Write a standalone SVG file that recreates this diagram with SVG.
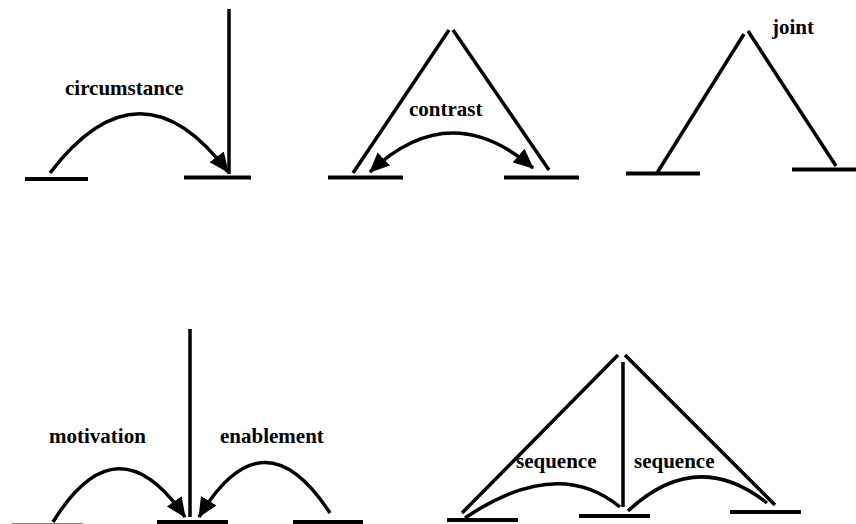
<svg xmlns="http://www.w3.org/2000/svg" width="856" height="524" viewBox="0 0 856 524">
<style>
.seg{stroke:#000;stroke-width:4;fill:none}
.ln{stroke:#000;stroke-width:3.5;fill:none}
.arc{stroke:#000;stroke-width:3.5;fill:none}
.lbl{font-family:"Liberation Serif","Times New Roman",serif;font-weight:bold;font-size:21px;fill:#000}
</style>
<defs>
<marker id="ah" markerUnits="userSpaceOnUse" markerWidth="22" markerHeight="18" refX="19" refY="9" orient="auto-start-reverse">
<path d="M0,0 L20,9 L0,18 z" fill="#000"/>
</marker>
</defs>
<rect width="856" height="524" fill="#fff"/>
<g id="nodes">
<g id="n1"><line class="seg" x1="25" y1="179" x2="88" y2="179"/></g>
<g id="n2"><line class="seg" x1="184" y1="177.5" x2="251" y2="177.5"/></g>
<g id="n3"><line class="seg" x1="328" y1="177.5" x2="403" y2="177.5"/></g>
<g id="n4"><line class="seg" x1="504" y1="177.5" x2="579" y2="177.5"/></g>
<g id="n5"><line class="seg" x1="626" y1="173.5" x2="700" y2="173.5"/></g>
<g id="n6"><line class="seg" x1="792" y1="169.5" x2="856" y2="169.5"/></g>
<g id="n7"><line class="seg" x1="12" y1="525.5" x2="83" y2="525.5"/></g>
<g id="n8"><line class="seg" x1="157" y1="522" x2="228" y2="522"/></g>
<g id="n9"><line class="seg" x1="293" y1="522" x2="363" y2="522"/></g>
<g id="n10"><line class="seg" x1="447" y1="520" x2="518" y2="520"/></g>
<g id="n11"><line class="seg" x1="579" y1="516" x2="650" y2="516"/></g>
<g id="n12"><line class="seg" x1="730" y1="512" x2="801" y2="512"/></g>
</g>
<g id="connectors">
<line class="ln" x1="229" y1="9" x2="229" y2="174"/>
<path class="arc" d="M50,173 Q140,55 228,172" marker-end="url(#ah)"/>
<line class="ln" x1="353" y1="173" x2="449" y2="30"/>
<line class="ln" x1="453" y1="30" x2="549" y2="170"/>
<path class="arc" d="M370,172 Q450,96 533,168" marker-start="url(#ah)" marker-end="url(#ah)"/>
<line class="ln" x1="657" y1="173" x2="744" y2="34"/>
<line class="ln" x1="748" y1="31" x2="836" y2="166"/>
<line class="ln" x1="190" y1="329" x2="190" y2="517"/>
<path class="arc" d="M53,522 Q117,418 185,517" marker-end="url(#ah)"/>
<path class="arc" d="M330,513 Q263,410 199,517" marker-end="url(#ah)"/>
<line class="ln" x1="462" y1="513" x2="618" y2="355"/>
<line class="ln" x1="625" y1="355" x2="775" y2="505"/>
<line class="ln" x1="623" y1="362" x2="623" y2="507"/>
<path class="arc" d="M465,518 Q557.5,455.5 620,507"/>
<path class="arc" d="M628,511 Q696.5,447 767,503"/>
</g>
<g id="labels">
<text class="lbl" x="65" y="95">circumstance</text>
<text class="lbl" x="409" y="116">contrast</text>
<text class="lbl" x="772" y="34">joint</text>
<text class="lbl" x="49" y="443">motivation</text>
<text class="lbl" x="220" y="443">enablement</text>
<text class="lbl" x="516" y="468">sequence</text>
<text class="lbl" x="634" y="468">sequence</text>
</g>
</svg>
